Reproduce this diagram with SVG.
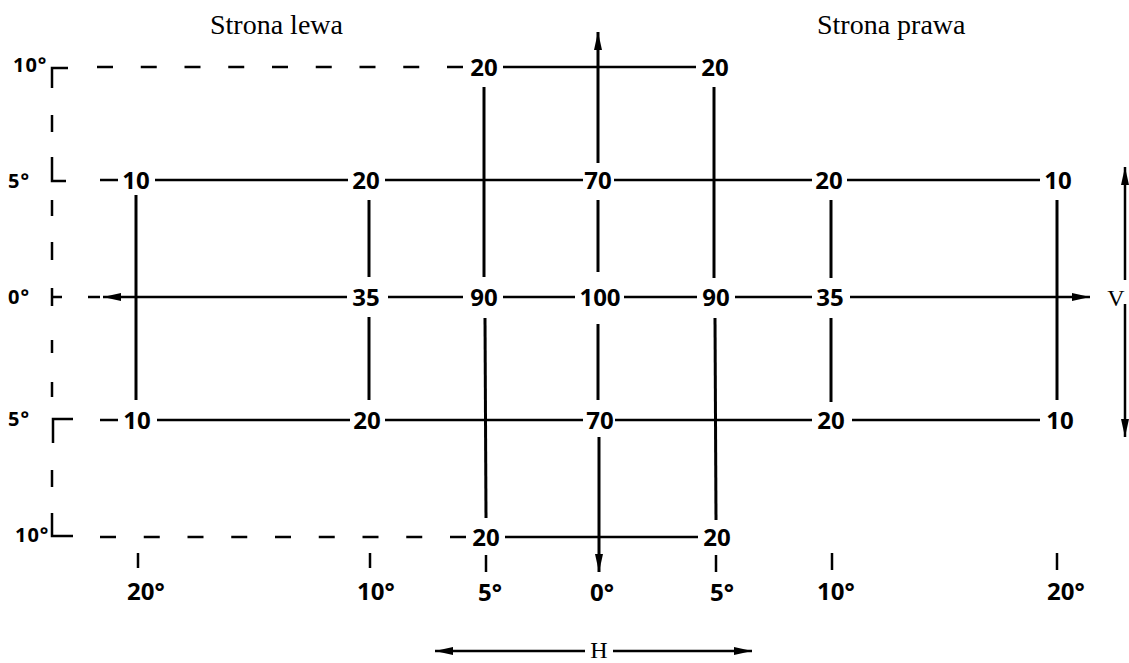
<svg xmlns="http://www.w3.org/2000/svg" width="1129" height="663" viewBox="0 0 1129 663">
<style>
.ln{stroke:#000;stroke-width:2.5;fill:none;stroke-linecap:butt}
.vl{stroke:#000;stroke-width:3;fill:none}
.ds{stroke:#000;stroke-width:2.5;fill:none;stroke-dasharray:16 27.75}
.ax{stroke:#000;stroke-width:2.5;fill:none}
.num{font-family:"Open Sans","Liberation Sans",sans-serif;font-weight:700;font-size:24px;fill:#000;text-anchor:middle}
.deg{font-family:"Open Sans","Liberation Sans",sans-serif;font-weight:700;font-size:24px;fill:#000}
.ldeg{font-family:"Open Sans","Liberation Sans",sans-serif;font-weight:700;font-size:20px;letter-spacing:1px;fill:#000}
.ttl{font-family:"Liberation Serif","Times New Roman",serif;font-size:28px;fill:#000}
.ser{font-family:"Liberation Serif","Times New Roman",serif;font-size:24px;fill:#000;text-anchor:middle}
</style>
<defs>
<marker id="ah" markerUnits="userSpaceOnUse" markerWidth="20" markerHeight="10" refX="18" refY="4" orient="auto">
<path d="M0,0 L18,4 L0,8 z" fill="#000"/>
</marker>
</defs>
<rect width="1129" height="663" fill="#fff"/>

<g id="titles">
<text class="ttl" x="210" y="34">Strona lewa</text>
<text class="ttl" x="817" y="34">Strona prawa</text>
</g>

<g id="left-axis">
<path class="ax" d="M68,68 H52 V88"/>
<path class="ax" d="M52,115 V132"/>
<path class="ax" d="M52,157 V181 H66"/>
<path class="ax" d="M52,200 V216"/>
<path class="ax" d="M52,242 V260"/>
<path class="ax" d="M52,288 V306 M52,297 H62"/>
<path class="ax" d="M52,340 V353"/>
<path class="ax" d="M52,382 V397"/>
<path class="ax" d="M73,419 H53 V443"/>
<path class="ax" d="M52,470 V487"/>
<path class="ax" d="M52,513 V536 H73"/>
<text class="ldeg" x="13" y="72">10°</text>
<text class="ldeg" x="8" y="188">5°</text>
<text class="ldeg" x="8" y="304">0°</text>
<text class="ldeg" x="8" y="426">5°</text>
<text class="ldeg" x="15" y="542">10°</text>
</g>

<g id="connectors">
<line class="ds" x1="97" y1="67" x2="466" y2="67"/>
<line class="ln" x1="503" y1="67" x2="696" y2="67"/>
<line class="ds" x1="100" y1="537" x2="468" y2="537"/>
<line class="ln" x1="505" y1="537" x2="698" y2="537"/>
<line class="ln" x1="100" y1="180" x2="118" y2="180"/>
<line class="ln" x1="155" y1="180" x2="348" y2="180"/>
<line class="ln" x1="385" y1="180" x2="583" y2="180"/>
<line class="ln" x1="614" y1="180" x2="812" y2="180"/>
<line class="ln" x1="847" y1="180" x2="1040" y2="180"/>
<line class="ln" x1="88" y1="297" x2="100" y2="297"/>
<line class="ln" x1="347" y1="297" x2="103" y2="297" marker-end="url(#ah)"/>
<line class="ln" x1="388" y1="297" x2="463" y2="297"/>
<line class="ln" x1="503" y1="297" x2="575" y2="297"/>
<line class="ln" x1="624" y1="297" x2="697" y2="297"/>
<line class="ln" x1="735" y1="297" x2="812" y2="297"/>
<line class="ln" x1="850" y1="297" x2="1090" y2="297" marker-end="url(#ah)"/>
<line class="ln" x1="100" y1="420" x2="118" y2="420"/>
<line class="ln" x1="157" y1="420" x2="350" y2="420"/>
<line class="ln" x1="385" y1="420" x2="583" y2="420"/>
<line class="ln" x1="615" y1="420" x2="812" y2="420"/>
<line class="ln" x1="852" y1="420" x2="1040" y2="420"/>
<line class="vl" x1="136" y1="195" x2="136" y2="400"/>
<line class="vl" x1="369" y1="200" x2="369" y2="277"/>
<line class="vl" x1="369" y1="317" x2="369" y2="400"/>
<line class="vl" x1="484" y1="87" x2="484" y2="277"/>
<line class="vl" x1="485" y1="318" x2="486" y2="518"/>
<line class="vl" x1="598" y1="163" x2="598" y2="32" marker-end="url(#ah)"/>
<line class="vl" x1="598" y1="200" x2="598" y2="272"/>
<line class="vl" x1="598" y1="324" x2="598" y2="400"/>
<line class="vl" x1="599" y1="437" x2="599" y2="572" marker-end="url(#ah)"/>
<line class="vl" x1="714" y1="87" x2="714" y2="278"/>
<line class="vl" x1="715" y1="318" x2="716" y2="520"/>
<line class="vl" x1="831" y1="200" x2="831" y2="278"/>
<line class="vl" x1="831" y1="318" x2="831" y2="402"/>
<line class="vl" x1="1057" y1="200" x2="1057" y2="400"/>
<line class="ax" x1="138" y1="553" x2="138" y2="568"/>
<line class="ax" x1="370" y1="553" x2="370" y2="568"/>
<line class="ax" x1="486" y1="555" x2="486" y2="572"/>
<line class="ax" x1="716" y1="555" x2="716" y2="572"/>
<line class="ax" x1="832" y1="553" x2="832" y2="570"/>
<line class="ax" x1="1057" y1="553" x2="1057" y2="570"/>
<line class="ln" x1="1125" y1="280" x2="1125" y2="167" marker-end="url(#ah)"/>
<line class="ln" x1="1125" y1="304" x2="1125" y2="437" marker-end="url(#ah)"/>
<line class="ln" x1="585" y1="651" x2="435" y2="651" marker-end="url(#ah)"/>
<line class="ln" x1="613" y1="651" x2="752" y2="651" marker-end="url(#ah)"/>
</g>

<g id="row10">
<g id="n-t-l"><text class="num" x="484" y="76">20</text></g>
<g id="n-t-r"><text class="num" x="715" y="76">20</text></g>
</g>
<g id="row5">
<g id="n-5-l20"><text class="num" x="136" y="189">10</text></g>
<g id="n-5-l10"><text class="num" x="366" y="189">20</text></g>
<g id="n-5-c"><text class="num" x="598" y="189">70</text></g>
<g id="n-5-r10"><text class="num" x="829" y="189">20</text></g>
<g id="n-5-r20"><text class="num" x="1058" y="189">10</text></g>
</g>
<g id="row0">
<g id="n-0-l10"><text class="num" x="366" y="306">35</text></g>
<g id="n-0-l5"><text class="num" x="484" y="306">90</text></g>
<g id="n-0-c"><text class="num" x="600" y="306">100</text></g>
<g id="n-0-r5"><text class="num" x="716" y="306">90</text></g>
<g id="n-0-r10"><text class="num" x="830" y="306">35</text></g>
</g>
<g id="rowm5">
<g id="n-m5-l20"><text class="num" x="137" y="429">10</text></g>
<g id="n-m5-l10"><text class="num" x="367" y="429">20</text></g>
<g id="n-m5-c"><text class="num" x="600" y="429">70</text></g>
<g id="n-m5-r10"><text class="num" x="831" y="429">20</text></g>
<g id="n-m5-r20"><text class="num" x="1060" y="429">10</text></g>
</g>
<g id="rowm10">
<g id="n-b-l"><text class="num" x="486" y="546">20</text></g>
<g id="n-b-r"><text class="num" x="717" y="546">20</text></g>
</g>

<g id="bottom-axis">
<text class="deg" x="127" y="600">20°</text>
<text class="deg" x="357" y="600">10°</text>
<text class="deg" x="478" y="601">5°</text>
<text class="deg" x="590" y="601">0°</text>
<text class="deg" x="710" y="601">5°</text>
<text class="deg" x="817" y="600">10°</text>
<text class="deg" x="1047" y="600">20°</text>
</g>

<g id="labels-HV">
<text class="ser" x="599" y="658">H</text>
<text class="ser" x="1116" y="306">V</text>
</g>
</svg>
